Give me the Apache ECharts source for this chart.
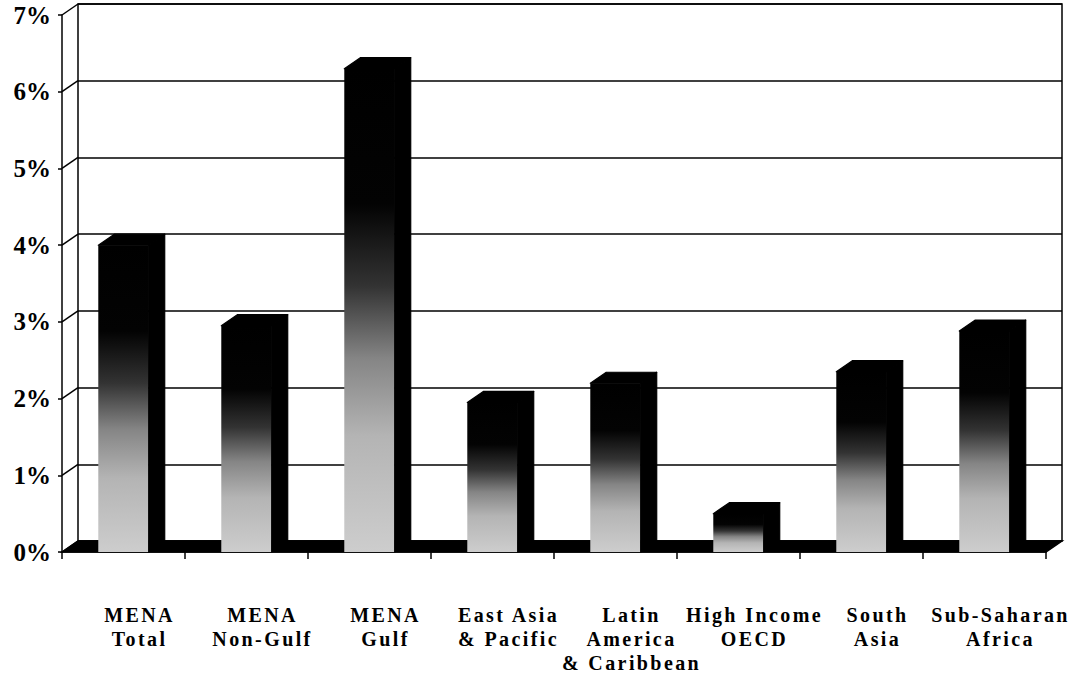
<!DOCTYPE html>
<html>
<head>
<meta charset="utf-8">
<title>Regional comparison</title>
<script src="https://cdn.jsdelivr.net/npm/echarts@6/dist/echarts.min.js"></script>
<style>
  html, body { margin: 0; padding: 0; background: #fff; }
  #chart { width: 1075px; height: 676px; }
  /* wide, tracked category captions */
  #chart text[style*="20px"], #chart text[font-size="20"], #chart text[font-size="20px"] { letter-spacing: 2.4px; }
</style>
</head>
<body>
<div id="chart"></div>
<script>
// Region names (line breaks as printed under the axis)
const categories = [
  'MENA\nTotal',
  'MENA\nNon-Gulf',
  'MENA\nGulf',
  'East Asia\n& Pacific',
  'Latin\nAmerica\n& Caribbean',
  'High Income\nOECD',
  'South\nAsia',
  'Sub-Saharan\nAfrica'
];

// Values in percent
const values = [4.0, 2.95, 6.3, 1.95, 2.2, 0.5, 2.35, 2.88];

// Value axis ticks
const yTicks = [0, 1, 2, 3, 4, 5, 6, 7];
const yTickLabels = ['0%', '1%', '2%', '3%', '4%', '5%', '6%', '7%'];

// Depth of the pseudo-3D box (pixels)
const DX = 16, DY = 11;
const BAR_RATIO = 0.41;
const SERIF = '"Liberation Serif", "Times New Roman", serif';

const chart = echarts.init(document.getElementById('chart'), null, { renderer: 'svg' });

const frontGrid = { left: 62, top: 15, right: 29, bottom: 124 };
const backGrid = {
  left: frontGrid.left + DX,
  top: frontGrid.top - DY,
  right: frontGrid.right - DX,
  bottom: frontGrid.bottom + DY
};

// Floor slab and side-wall connectors, drawn from the front grid's rectangle
function renderFrame(params, api) {
  const cs = params.coordSys;
  const yb = cs.y + cs.height;
  const children = [{
    type: 'polygon',
    shape: { points: [[cs.x, yb], [cs.x + DX, yb - DY], [cs.x + cs.width + DX, yb - DY], [cs.x + cs.width, yb]] },
    style: { fill: '#000', stroke: '#000', lineWidth: 1.5 }
  }];
  yTicks.forEach(function (v) {
    const y = api.coord([0, v])[1];
    children.push({
      type: 'line',
      shape: { x1: cs.x, y1: y, x2: cs.x + DX, y2: y - DY },
      style: { stroke: '#000', lineWidth: 1.5 }
    });
  });
  return { type: 'group', children: children };
}

// One box-shaped column: shaded front, black side and top
function renderBar(params, api) {
  const i = api.value(0);
  const v = api.value(1);
  const base = api.coord([i, 0]);
  const top = api.coord([i, v]);
  const w = api.size([1, 0])[0] * BAR_RATIO;
  const x0 = base[0] - w / 2, x1 = base[0] + w / 2;
  const yb = base[1], yt = top[1];
  const solid = { fill: '#000', stroke: '#000', lineWidth: 1.2, lineJoin: 'round' };
  return {
    type: 'group',
    children: [
      {
        type: 'rect',
        shape: { x: x0, y: yt, width: w, height: yb - yt },
        style: {
          fill: new echarts.graphic.LinearGradient(0, 0, 0, 1, [
            { offset: 0, color: '#000000' },
            { offset: 0.28, color: '#030303' },
            { offset: 0.45, color: '#333333' },
            { offset: 0.6, color: '#858585' },
            { offset: 0.76, color: '#b4b4b4' },
            { offset: 1, color: '#cdcdcd' }
          ])
        }
      },
      {
        type: 'polygon',
        shape: { points: [[x1, yt], [x1 + DX, yt - DY], [x1 + DX, yb - DY], [x1, yb]] },
        style: solid
      },
      {
        type: 'polygon',
        shape: { points: [[x0, yt], [x0 + DX, yt - DY], [x1 + DX, yt - DY], [x1, yt]] },
        style: solid
      }
    ]
  };
}

chart.setOption({
  animation: false,
  backgroundColor: '#fff',
  grid: [
    Object.assign({ show: false }, frontGrid),
    Object.assign({ show: true, borderColor: '#000', borderWidth: 1.5, backgroundColor: 'transparent' }, backGrid)
  ],
  xAxis: [
    {
      type: 'category', gridIndex: 0, data: categories, boundaryGap: true,
      axisLine: { show: true, lineStyle: { color: '#000', width: 1.5 } },
      axisTick: { show: true, interval: 0, length: 7, lineStyle: { color: '#000', width: 1.5 } },
      axisLabel: { show: false },
      splitLine: { show: false }
    },
    {
      type: 'category', gridIndex: 1, data: categories, boundaryGap: true,
      axisLine: { show: false },
      axisTick: { show: false },
      axisLabel: {
        show: true, interval: 0, margin: 62,
        fontFamily: SERIF, fontWeight: 'bold', fontSize: 20, lineHeight: 24,
        color: '#000', align: 'center'
      },
      splitLine: { show: false }
    }
  ],
  yAxis: [
    {
      type: 'value', gridIndex: 0, min: 0, max: 7, interval: 1,
      axisLine: { show: true, lineStyle: { color: '#000', width: 1.5 } },
      axisTick: { show: true, length: 4, lineStyle: { color: '#000', width: 1.5 } },
      axisLabel: {
        show: true, margin: 11,
        fontFamily: SERIF, fontWeight: 'bold', fontSize: 25, color: '#000',
        formatter: function (v, idx) { return yTickLabels[idx]; }
      },
      splitLine: { show: false }
    },
    {
      type: 'value', gridIndex: 1, min: 0, max: 7, interval: 1,
      axisLine: { show: false },
      axisTick: { show: false },
      axisLabel: { show: false },
      splitLine: { show: true, lineStyle: { color: '#000', width: 1.5 } }
    }
  ],
  series: [
    {
      type: 'custom', name: 'frame', xAxisIndex: 0, yAxisIndex: 0, z: 1,
      data: [[0, 0]], renderItem: renderFrame, silent: true
    },
    {
      type: 'custom', name: 'values', xAxisIndex: 0, yAxisIndex: 0, z: 3,
      data: values.map(function (v, i) { return [i, v]; }),
      encode: { x: 0, y: 1 },
      renderItem: renderBar
    }
  ]
});
</script>
</body>
</html>
